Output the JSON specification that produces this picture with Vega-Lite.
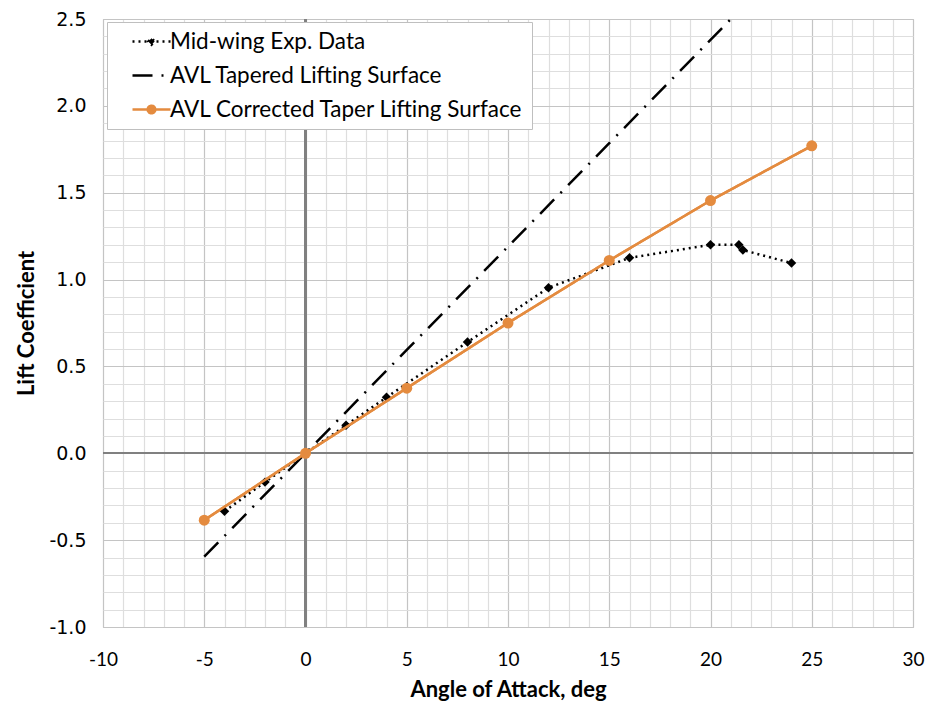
{
  "$schema": "https://vega.github.io/schema/vega-lite/v6.json",
  "autosize": {"type": "none"},
  "width": 810,
  "height": 608,
  "padding": {"left": 103, "top": 19, "right": 17, "bottom": 84},
  "background": "white",
  "config": {
    "view": {"stroke": "#bfbfbf", "strokeWidth": 1},
    "font": "Lato"
  },
  "datasets": {
    "lines": [
      {"series": "Mid-wing Exp. Data", "aoa": -4, "cl": -0.334},
      {"series": "Mid-wing Exp. Data", "aoa": -2, "cl": -0.166},
      {"series": "Mid-wing Exp. Data", "aoa": 0, "cl": 0},
      {"series": "Mid-wing Exp. Data", "aoa": 2, "cl": 0.161},
      {"series": "Mid-wing Exp. Data", "aoa": 4, "cl": 0.322},
      {"series": "Mid-wing Exp. Data", "aoa": 8, "cl": 0.64},
      {"series": "Mid-wing Exp. Data", "aoa": 12, "cl": 0.953},
      {"series": "Mid-wing Exp. Data", "aoa": 16, "cl": 1.125},
      {"series": "Mid-wing Exp. Data", "aoa": 20, "cl": 1.2},
      {"series": "Mid-wing Exp. Data", "aoa": 21.4, "cl": 1.2},
      {"series": "Mid-wing Exp. Data", "aoa": 21.6, "cl": 1.17},
      {"series": "Mid-wing Exp. Data", "aoa": 24, "cl": 1.095},
      {"series": "AVL Tapered Lifting Surface", "aoa": -5, "cl": -0.595},
      {"series": "AVL Tapered Lifting Surface", "aoa": 0, "cl": 0},
      {"series": "AVL Tapered Lifting Surface", "aoa": 5, "cl": 0.595},
      {"series": "AVL Tapered Lifting Surface", "aoa": 10, "cl": 1.19},
      {"series": "AVL Tapered Lifting Surface", "aoa": 15, "cl": 1.785},
      {"series": "AVL Tapered Lifting Surface", "aoa": 20, "cl": 2.38},
      {"series": "AVL Tapered Lifting Surface", "aoa": 25, "cl": 2.975},
      {"series": "AVL Corrected Taper Lifting Surface", "aoa": -5, "cl": -0.385},
      {"series": "AVL Corrected Taper Lifting Surface", "aoa": 0, "cl": 0},
      {"series": "AVL Corrected Taper Lifting Surface", "aoa": 5, "cl": 0.375},
      {"series": "AVL Corrected Taper Lifting Surface", "aoa": 10, "cl": 0.75},
      {"series": "AVL Corrected Taper Lifting Surface", "aoa": 15, "cl": 1.11},
      {"series": "AVL Corrected Taper Lifting Surface", "aoa": 20, "cl": 1.455},
      {"series": "AVL Corrected Taper Lifting Surface", "aoa": 25, "cl": 1.77}
    ]
  },
  "data": {"name": "lines"},
  "encoding": {
    "x": {
      "field": "aoa", "type": "quantitative",
      "scale": {"domain": [-10, 30], "nice": false, "zero": false},
      "axis": {
        "title": "Angle of Attack, deg",
        "titleFont": "Lato", "titleFontSize": 22, "titleFontWeight": "bold", "titleColor": "#000",
        "titlePadding": 10,
        "values": [-10,-9,-8,-7,-6,-5,-4,-3,-2,-1,0,1,2,3,4,5,6,7,8,9,10,11,12,13,14,15,16,17,18,19,20,21,22,23,24,25,26,27,28,29,30],
        "labelExpr": "datum.value % 5 === 0 ? toString(datum.value) : ''",
        "labelFont": "Lato", "labelFontSize": 19, "labelColor": "#000",
        "labelPadding": 23, "labelFlush": false, "labelOverlap": false, "labelBound": false,
        "ticks": false, "domain": false,
        "grid": true,
        "gridColor": {"condition": {"test": "datum.value % 5 === 0", "value": "#c4c4c4"}, "value": "#dedede"},
        "gridWidth": 1.2
      }
    },
    "y": {
      "field": "cl", "type": "quantitative",
      "scale": {"domain": [-1, 2.5], "nice": false, "zero": false},
      "axis": {
        "title": "Lift Coefficient",
        "titleFont": "Lato", "titleFontSize": 22, "titleFontWeight": "bold", "titleColor": "#000",
        "titlePadding": 10,
        "values": [-1,-0.9,-0.8,-0.7,-0.6,-0.5,-0.4,-0.3,-0.2,-0.1,0,0.1,0.2,0.3,0.4,0.5,0.6,0.7,0.8,0.9,1,1.1,1.2,1.3,1.4,1.5,1.6,1.7,1.8,1.9,2,2.1,2.2,2.3,2.4,2.5],
        "format": ".1f",
        "labelExpr": "abs(datum.value*2 - round(datum.value*2)) < 0.001 ? replace(datum.label, '\u2212', '-') : ''",
        "labelFont": "DejaVu Sans", "labelFontSize": 19, "labelColor": "#000",
        "labelPadding": 17, "labelOverlap": false, "labelBound": false, "labelFlush": false,
        "ticks": false, "domain": false,
        "grid": true,
        "gridColor": {"condition": {"test": "abs(datum.value*2 - round(datum.value*2)) < 0.001", "value": "#c4c4c4"}, "value": "#dedede"},
        "gridWidth": 1.2
      }
    }
  },
  "layer": [
    {
      "mark": {"type": "rule", "color": "#808080", "strokeWidth": 1.5},
      "encoding": {"x": {"datum": 0}, "y": null}
    },
    {
      "mark": {"type": "rule", "color": "#808080", "strokeWidth": 1.5},
      "encoding": {"y": {"datum": 0}, "x": null}
    },
    {
      "mark": {"type": "line", "strokeWidth": 2.5, "clip": true},
      "encoding": {
        "color": {
          "field": "series", "type": "nominal",
          "scale": {
            "domain": ["Mid-wing Exp. Data", "AVL Tapered Lifting Surface", "AVL Corrected Taper Lifting Surface"],
            "range": ["#000000", "#000000", "#E48B3F"]
          },
          "legend": {
            "title": null,
            "orient": "none", "legendX": 4, "legendY": 3,
            "padding": 8,
            "fillColor": "white", "strokeColor": "#bfbfbf",
            "labelFont": "Lato", "labelFontSize": 22.5, "labelColor": "#000", "labelLimit": 700,
            "labelOffset": 7,
            "symbolOffset": 25,
            "symbolSize": 400, "symbolStrokeWidth": 2.5, "symbolType": "stroke",
            "rowPadding": 11,
            "encode": {
              "symbols": {
                "update": {
                  "shape": {"signal": "datum.value === 'AVL Corrected Taper Lifting Surface' ? 'M-1.9,0L1.9,0M-0.38,0A0.38,0.38,0,1,0,0.38,0A0.38,0.38,0,1,0,-0.38,0Z' : datum.value === 'Mid-wing Exp. Data' ? 'M-1.9,0L1.9,0M-0.32,0L0,-0.32L0.32,0L0,0.32Z' : 'M-1.9,0L1.9,0'"},
                  "fill": {"signal": "datum.value === 'AVL Corrected Taper Lifting Surface' ? '#E48B3F' : datum.value === 'Mid-wing Exp. Data' ? '#000000' : 'transparent'"}
                }
              }
            }
          }
        },
        "strokeDash": {
          "field": "series", "type": "nominal",
          "scale": {
            "domain": ["Mid-wing Exp. Data", "AVL Tapered Lifting Surface", "AVL Corrected Taper Lifting Surface"],
            "range": [[2, 4], [20, 9, 2, 9], [1, 0]]
          }
        },
        "detail": {"field": "series"}
      }
    },
    {
      "transform": [{"filter": "datum.series === 'Mid-wing Exp. Data'"}],
      "mark": {"type": "point", "shape": "diamond", "filled": true, "color": "#000000", "size": 90, "opacity": 1}
    },
    {
      "transform": [{"filter": "datum.series === 'AVL Corrected Taper Lifting Surface'"}],
      "mark": {"type": "line", "color": "#E48B3F", "strokeWidth": 2.5}
    },
    {
      "transform": [{"filter": "datum.series === 'AVL Corrected Taper Lifting Surface'"}],
      "mark": {"type": "point", "shape": "circle", "filled": true, "color": "#E48B3F", "size": 121, "opacity": 1}
    }
  ]
}
